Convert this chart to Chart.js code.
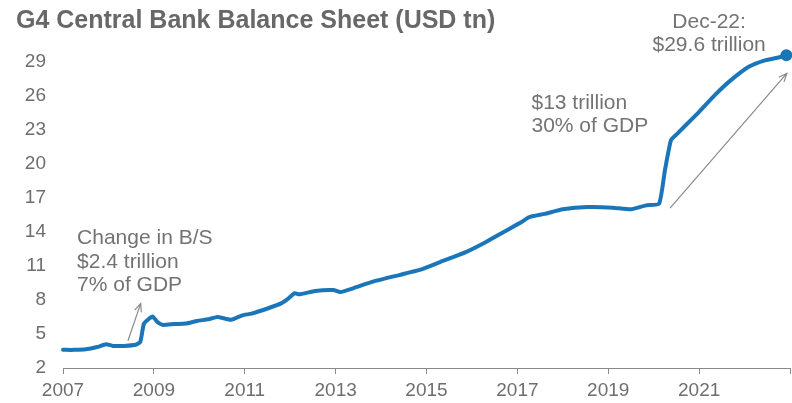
<!DOCTYPE html>
<html>
<head>
<meta charset="utf-8">
<script src="https://cdn.jsdelivr.net/npm/chart.js@4.4.0/dist/chart.umd.min.js"></script>
<style>
  html, body { margin: 0; padding: 0; background: #fff; }
</style>
</head>
<body>
<canvas id="bsChart" width="792" height="403"></canvas>
<script>
// G4 central bank balance sheet, USD tn
const years = [2007.0, 2007.25, 2007.5, 2007.75, 2007.95, 2008.1, 2008.35, 2008.6, 2008.7, 2008.78,
  2008.88, 2008.97, 2009.08, 2009.2, 2009.45, 2009.7, 2009.95, 2010.2, 2010.4, 2010.7,
  2010.95, 2011.15, 2011.5, 2011.8, 2011.95, 2012.1, 2012.2, 2012.55, 2012.95, 2013.1,
  2013.4, 2013.8, 2014.4, 2014.85, 2015.3, 2015.85, 2016.3, 2016.7, 2017.1, 2017.25,
  2017.6, 2018.0, 2018.55, 2019.1, 2019.5, 2019.83, 2020.12, 2020.25, 2020.38, 2020.5,
  2020.65, 2021.0, 2021.35, 2021.7, 2022.1, 2022.45, 2022.75, 2022.92];
const balance = [3.6, 3.6, 3.65, 3.85, 4.1, 3.95, 3.95, 4.05, 4.3, 5.9,
  6.3, 6.55, 6.05, 5.8, 5.88, 5.92, 6.15, 6.3, 6.5, 6.25,
  6.65, 6.8, 7.25, 7.7, 8.1, 8.6, 8.5, 8.8, 8.88, 8.7,
  9.05, 9.6, 10.2, 10.65, 11.35, 12.2, 13.1, 14.0, 14.9, 15.3,
  15.6, 16.0, 16.2, 16.15, 16.0, 16.35, 16.5, 19.5, 22.1, 22.6,
  23.2, 24.6, 26.1, 27.4, 28.6, 29.15, 29.4, 29.6];
const yTicks = [2, 5, 8, 11, 14, 17, 20, 23, 26, 29];
const xTicks = [2007, 2009, 2011, 2013, 2015, 2017, 2019, 2021, 2023];

// text notes and arrows, placed in chart units
const notes = [
  { x: 2007.31, y: 13.45, align: 'left', lines: ['Change in B/S', '$2.4 trillion', '7% of GDP'] },
  { x: 2017.31, y: 25.4, align: 'left', lines: ['$13 trillion', '30% of GDP'] },
  { x: 2021.22, y: 32.55, align: 'center', lines: ['Dec-22:', '$29.6 trillion'] }
];
const arrows = [
  { from: [2008.43, 4.4], to: [2008.71, 7.7] },
  { from: [2020.36, 16.1], to: [2022.93, 28.0] }
];

const FONT = '"Liberation Sans", Arial, sans-serif';
const blue = '#1a76b8';

const annotate = {
  id: 'annotate',
  afterDatasetsDraw(chart) {
    const { ctx, scales: { x, y } } = chart;
    ctx.save();
    ctx.strokeStyle = '#8a8a8a';
    ctx.lineWidth = 1.2;
    arrows.forEach(a => {
      const x0 = x.getPixelForValue(a.from[0]), y0 = y.getPixelForValue(a.from[1]);
      const x1 = x.getPixelForValue(a.to[0]), y1 = y.getPixelForValue(a.to[1]);
      const ang = Math.atan2(y1 - y0, x1 - x0);
      ctx.beginPath();
      ctx.moveTo(x0, y0);
      ctx.lineTo(x1, y1);
      ctx.moveTo(x1 - 9 * Math.cos(ang - 0.4), y1 - 9 * Math.sin(ang - 0.4));
      ctx.lineTo(x1, y1);
      ctx.lineTo(x1 - 9 * Math.cos(ang + 0.4), y1 - 9 * Math.sin(ang + 0.4));
      ctx.stroke();
    });
    ctx.fillStyle = '#737373';
    ctx.font = '21px ' + FONT;
    ctx.textBaseline = 'middle';
    notes.forEach(n => {
      ctx.textAlign = n.align;
      n.lines.forEach((t, i) => {
        ctx.fillText(t, x.getPixelForValue(n.x), y.getPixelForValue(n.y) + i * 23.5);
      });
    });
    ctx.restore();
  }
};

const ctx = document.getElementById('bsChart').getContext('2d');
const bsChart = new Chart(ctx, {
  type: 'line',
  data: {
    datasets: [{
      data: years.map((yr, i) => ({ x: yr, y: balance[i] })),
      borderColor: blue,
      backgroundColor: blue,
      borderWidth: 4,
      borderJoinStyle: 'round',
      borderCapStyle: 'round',
      tension: 0.15,
      pointRadius: c => c.dataIndex === balance.length - 1 ? 4 : 0,
      pointHoverRadius: 0,
      clip: false
    }]
  },
  options: {
    responsive: false,
    animation: false,
    layout: { autoPadding: false, padding: { left: 16, right: 2, top: 0, bottom: 1 } },
    plugins: {
      legend: { display: false },
      tooltip: { enabled: false },
      title: {
        display: true,
        text: 'G4 Central Bank Balance Sheet (USD tn)',
        align: 'start',
        color: '#686868',
        font: { family: FONT, size: 25, weight: 'bold' },
        padding: { top: 6, bottom: 9 }
      }
    },
    scales: {
      x: {
        type: 'linear',
        min: 2007,
        max: 2023,
        afterBuildTicks: s => { s.ticks = xTicks.map(v => ({ value: v })); },
        afterFit: s => { s.paddingRight = 0; s.paddingLeft = 0; s.height = 34; },
        ticks: {
          color: '#6e6e6e',
          font: { family: FONT, size: 19 },
          padding: 5,
          maxRotation: 0,
          autoSkip: false,
          callback: v => v === 2023 ? '' : String(v)
        },
        grid: { drawOnChartArea: false, color: '#8a8a8a', tickLength: 6 },
        border: { color: '#8a8a8a', width: 1 }
      },
      y: {
        min: 2,
        max: 30.5,
        afterBuildTicks: s => { s.ticks = yTicks.map(v => ({ value: v })); },
        afterFit: s => { s.width = 47; },
        ticks: {
          color: '#6e6e6e',
          font: { family: FONT, size: 19 },
          padding: 17
        },
        grid: { display: false, drawTicks: false },
        border: { display: false }
      }
    }
  },
  plugins: [annotate]
});
</script>
</body>
</html>
